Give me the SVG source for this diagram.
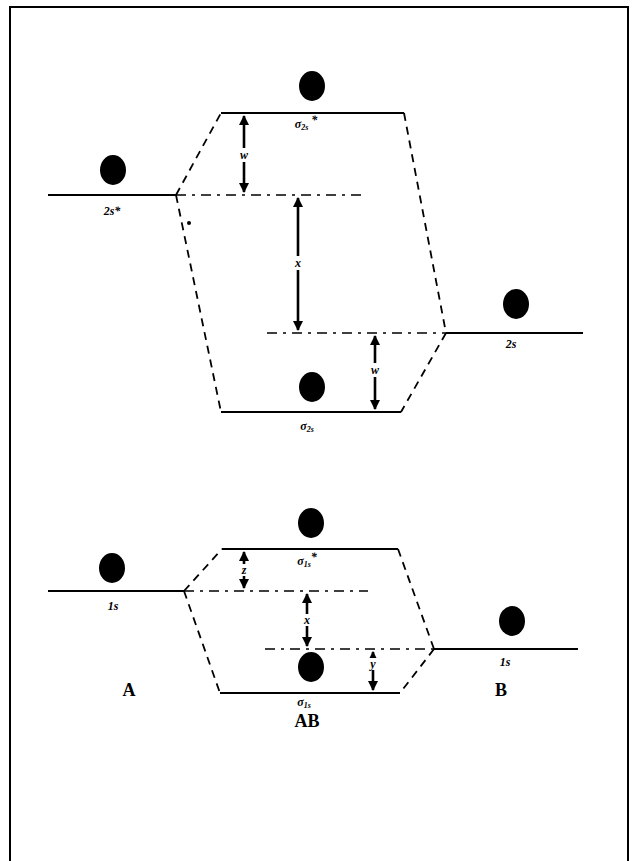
<svg xmlns="http://www.w3.org/2000/svg" width="637" height="861" viewBox="0 0 637 861">
<defs>
<marker id="ah" viewBox="0 0 10 10" refX="9" refY="5" markerWidth="4" markerHeight="5" orient="auto-start-reverse" markerUnits="strokeWidth">
<path d="M0,0 L10,5 L0,10 Z" fill="#000"/>
</marker>
<style>
.lvl{stroke:#000;stroke-width:1.8;fill:none}
.dash{stroke:#000;stroke-width:1.8;fill:none;stroke-dasharray:8 6}
.ref{stroke:#000;stroke-width:1.6;fill:none;stroke-dasharray:10 6 3 6}
.arr{stroke:#000;stroke-width:2.6;fill:none;marker-start:url(#ah);marker-end:url(#ah)}
.dot{fill:#000}
.lab{font-family:"Liberation Serif",serif;font-style:italic;font-weight:bold;font-size:12px;fill:#000;text-anchor:middle}
.big{font-family:"Liberation Serif",serif;font-weight:bold;font-size:18px;fill:#000;text-anchor:middle}
.alab{font-family:"Liberation Serif",serif;font-style:italic;font-weight:bold;font-size:12px;fill:#000;text-anchor:middle}
</style>
</defs>
<rect width="637" height="861" fill="#fff"/>
<path d="M10,861 L10,7 L628,7 L628,861" stroke="#000" stroke-width="2" fill="none"/>

<g id="connectors">
<path class="dash" d="M176,195 L221,113"/>
<path class="dash" d="M404,113 L446,333"/>
<path class="dash" d="M176,195 L221,412"/>
<path class="dash" d="M446,333 L401,412"/>
<path class="ref" d="M176,195 L362,195"/>
<path class="ref" d="M267,333 L446,333"/>
<path class="arr" d="M244,116 L244,192"/>
<path class="arr" d="M298,198 L298,330"/>
<path class="arr" d="M375,336 L375,409"/>
<path class="dash" d="M184,591 L222,549"/>
<path class="dash" d="M398,549 L434,649"/>
<path class="dash" d="M184,591 L220,693"/>
<path class="dash" d="M434,649 L400,693"/>
<path class="ref" d="M184,591 L368,591"/>
<path class="ref" d="M265,649 L434,649"/>
<path class="arr" d="M244,552 L244,588"/>
<path class="arr" d="M307,594 L307,646"/>
<path class="arr" d="M373,652 L373,690"/>
</g>
<g id="arrow-labels">
<rect x="238" y="148" width="12" height="14" fill="#fff"/>
<text class="alab" x="244" y="159">w</text>
<rect x="292" y="256" width="12" height="14" fill="#fff"/>
<text class="alab" x="298" y="267">x</text>
<rect x="369" y="363" width="12" height="14" fill="#fff"/>
<text class="alab" x="375" y="374">w</text>
<rect x="238" y="564" width="12" height="12" fill="#fff"/>
<text class="alab" x="244" y="574">z</text>
<rect x="301" y="614" width="12" height="12" fill="#fff"/>
<text class="alab" x="307" y="624">x</text>
<rect x="367" y="658" width="12" height="12" fill="#fff"/>
<text class="alab" x="373" y="668">y</text>
</g>

<g id="A-2s">
<line class="lvl" x1="48" y1="195" x2="176" y2="195"/>
<ellipse class="dot" cx="113" cy="170" rx="13" ry="15"/>
<text class="lab" x="112" y="215">2s*</text>
<circle class="dot" cx="189" cy="223" r="2"/>
</g>
<g id="AB-sigma2s-star">
<line class="lvl" x1="221" y1="113" x2="404" y2="113"/>
<ellipse class="dot" cx="312" cy="86" rx="13" ry="15"/>
<text class="lab" x="306" y="128">σ<tspan font-size="8" dy="2">2s</tspan><tspan dy="-6"> *</tspan></text>
</g>
<g id="B-2s">
<line class="lvl" x1="446" y1="333" x2="583" y2="333"/>
<ellipse class="dot" cx="516" cy="304" rx="13" ry="15"/>
<text class="lab" x="511" y="348">2s</text>
</g>
<g id="AB-sigma2s">
<line class="lvl" x1="221" y1="412" x2="401" y2="412"/>
<ellipse class="dot" cx="312" cy="387" rx="13" ry="15"/>
<text class="lab" x="307" y="430">σ<tspan font-size="8" dy="2">2s</tspan></text>
</g>

<g id="A-1s">
<line class="lvl" x1="48" y1="591" x2="184" y2="591"/>
<ellipse class="dot" cx="112" cy="568" rx="13" ry="15"/>
<text class="lab" x="113" y="610">1s</text>
</g>
<g id="AB-sigma1s-star">
<line class="lvl" x1="222" y1="549" x2="398" y2="549"/>
<ellipse class="dot" cx="311" cy="523" rx="13" ry="15"/>
<text class="lab" x="307" y="565">σ<tspan font-size="8" dy="2">1s</tspan><tspan dy="-6">*</tspan></text>
</g>
<g id="B-1s">
<line class="lvl" x1="434" y1="649" x2="578" y2="649"/>
<ellipse class="dot" cx="512" cy="621" rx="13" ry="15"/>
<text class="lab" x="505" y="666">1s</text>
</g>
<g id="AB-sigma1s">
<line class="lvl" x1="220" y1="693" x2="400" y2="693"/>
<ellipse class="dot" cx="311" cy="667" rx="13" ry="15"/>
<text class="lab" x="304" y="706">σ<tspan font-size="8" dy="2">1s</tspan></text>
</g>

<g id="labels">
<text class="big" x="129" y="696">A</text>
<text class="big" x="307" y="727">AB</text>
<text class="big" x="501" y="696">B</text>
</g>
</svg>
